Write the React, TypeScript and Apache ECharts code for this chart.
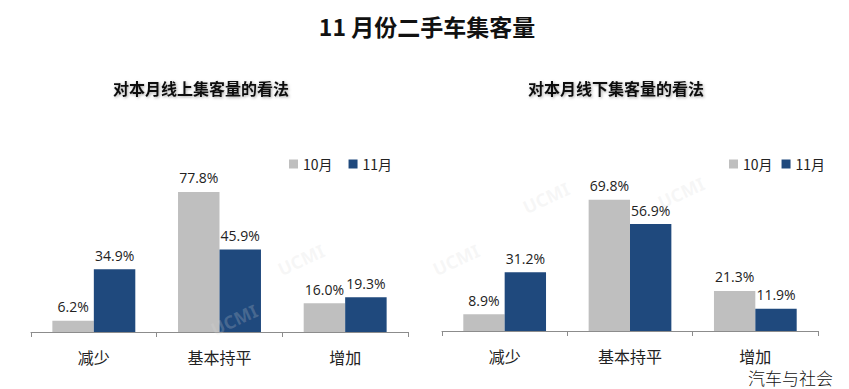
import React, { useEffect, useRef } from "react";
import * as echarts from "echarts";

const categories = ["减少", "基本持平", "增加"];
const seriesNames = ["10月", "11月"];
const onlineOct = [6.2, 77.8, 16.0];
const onlineNov = [34.9, 45.9, 19.3];
const offlineOct = [8.9, 69.8, 21.3];
const offlineNov = [31.2, 56.9, 11.9];

const GRAY = "#BFBFBF";
const NAVY = "#1F497D";
const CJK = "'Noto Sans CJK SC', 'Noto Sans', sans-serif";

export default function App() {
  const ref = useRef<HTMLDivElement>(null);
  useEffect(() => {
    if (!ref.current) return;
    const chart = echarts.init(ref.current, undefined, { renderer: "svg" });
    const xAxisBase = (gridIndex: number) => ({
      type: "category" as const,
      gridIndex,
      data: categories,
      axisLine: { lineStyle: { color: "#8C8C8C", width: 1 } },
      axisTick: { show: true, length: 5, lineStyle: { color: "#8C8C8C" } },
      axisLabel: { color: "#222", fontSize: 16, lineHeight: 16, fontFamily: CJK, margin: 17 },
    });
    const yAxisBase = (gridIndex: number) => ({
      type: "value" as const,
      gridIndex,
      min: 0,
      max: 100,
      show: false,
      splitLine: { show: false },
    });
    const label = {
      show: true,
      position: "top" as const,
      distance: 7,
      color: "#222",
      fontSize: 14,
      fontFamily: "'Open Sans', 'Noto Sans', sans-serif",
      formatter: (p: any) => Number(p.value).toFixed(1) + "%",
    };
    const mkSeries = (name: string, data: number[], color: string, idx: number) => ({
      type: "bar" as const,
      name,
      data,
      xAxisIndex: idx,
      yAxisIndex: idx,
      barGap: "0%",
      barCategoryGap: "34%",
      itemStyle: { color },
      label,
    });
    const wm = (x: number, y: number) => ({
      type: "text" as const,
      x,
      y,
      rotation: (25 * Math.PI) / 180,
      style: {
        text: "UCMI",
        fill: "rgba(215,215,215,0.22)",
        font: "bold 18px 'Noto Sans', sans-serif",
      },
      z: 100,
    });
    const subStyle = {
      fontSize: 16,
      fontWeight: "bold" as const,
      color: "#111",
      fontFamily: CJK,
      textShadowColor: "rgba(0,0,0,0.35)",
      textShadowBlur: 3,
      textShadowOffsetX: 1,
      textShadowOffsetY: 1,
    };
    chart.setOption({
      animation: false,
      backgroundColor: "#ffffff",
      title: [
        {
          text: "11 月份二手车集客量",
          left: 422,
          top: 9,
          textAlign: "center",
          textStyle: { fontSize: 23, fontWeight: "bold", color: "#111", fontFamily: CJK },
        },
        { text: "对本月线上集客量的看法", left: 196, top: 75, textAlign: "center", textStyle: subStyle },
        { text: "对本月线下集客量的看法", left: 611, top: 75, textAlign: "center", textStyle: subStyle },
      ],
      legend: [
        {
          data: seriesNames,
          left: 284,
          top: 152,
          itemWidth: 9,
          itemHeight: 9,
          itemGap: 16,
          icon: "rect",
          textStyle: { fontSize: 14, color: "#222", fontFamily: CJK },
        },
        {
          data: seriesNames,
          left: 724,
          top: 152,
          itemWidth: 9,
          itemHeight: 9,
          itemGap: 9,
          icon: "rect",
          textStyle: { fontSize: 14, color: "#222", fontFamily: CJK },
        },
      ],
      grid: [
        { left: 31, right: 441, top: 152, bottom: 57 },
        { left: 442, right: 31, top: 143, bottom: 58 },
      ],
      xAxis: [xAxisBase(0), xAxisBase(1)],
      yAxis: [yAxisBase(0), yAxisBase(1)],
      series: [
        mkSeries(seriesNames[0], onlineOct, GRAY, 0),
        mkSeries(seriesNames[1], onlineNov, NAVY, 0),
        mkSeries(seriesNames[0], offlineOct, GRAY, 1),
        mkSeries(seriesNames[1], offlineNov, NAVY, 1),
      ],
      graphic: [
        wm(208, 322),
        wm(275, 262),
        wm(430, 262),
        wm(520, 200),
        wm(655, 195),
        {
          type: "text",
          left: 748,
          top: 369,
          style: {
            text: "汽车与社会",
            fill: "#111",
            font: "300 17px 'Noto Sans CJK SC', sans-serif",
            lineHeight: 17,
          },
          z: 101,
        },
      ],
    });
    return () => chart.dispose();
  }, []);
  return (
    <div
      ref={ref}
      style={{ position: "fixed", left: 0, top: 0, width: 849, height: 389, background: "#fff" }}
    />
  );
}
